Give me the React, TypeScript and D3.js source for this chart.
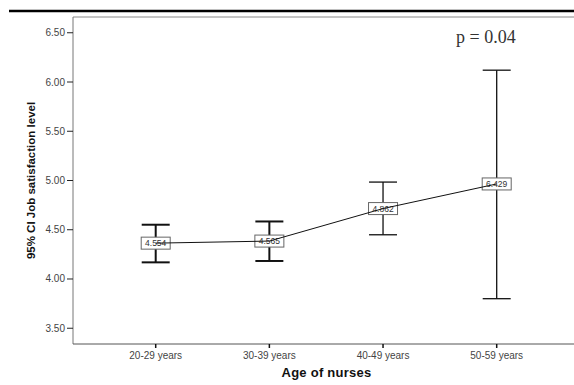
import React from "react";
import * as d3 from "d3";

const categories = ["20-29 years", "30-39 years", "40-49 years", "50-59 years"];
const means = [4.364, 4.385, 4.715, 4.965];
const lower = [4.169, 4.183, 4.449, 3.8];
const upper = [4.551, 4.584, 4.984, 6.12];
const pointLabels = ["4.554", "4.565", "4.862", "6.429"];
const yTicks = [3.5, 4.0, 4.5, 5.0, 5.5, 6.0, 6.5];

const W = 574;
const H = 385;
const frame = { left: 73, right: 580, top: 17, bottom: 344 };

export default function App() {
  const y = d3.scaleLinear().domain([3.34, 6.66]).range([frame.bottom, frame.top]);
  const x = d3.scalePoint<string>().domain(categories).range([155.7, 496.7]);
  const line = d3
    .line<number>()
    .x((_, i) => x(categories[i])!)
    .y((d) => y(d));
  const capW = 14;
  const font = "'Liberation Sans', Arial, sans-serif";
  return (
    <svg
      width={W}
      height={H}
      style={{ position: "absolute", left: 0, top: 0, background: "#fff" }}
    >
      <rect x={0} y={0} width={W} height={H} fill="#fff" />
      <line x1={9} x2={W} y1={11} y2={11} stroke="#000" strokeWidth={2.6} />
      {/* frame */}
      <line x1={frame.left} x2={frame.right} y1={frame.top} y2={frame.top} stroke="#888" strokeWidth={1} />
      <line x1={frame.left} x2={frame.left} y1={frame.top} y2={frame.bottom} stroke="#777" strokeWidth={1} />
      <line x1={frame.left} x2={frame.right} y1={frame.bottom} y2={frame.bottom} stroke="#555" strokeWidth={1} />
      {/* y ticks */}
      {yTicks.map((t) => (
        <g key={t}>
          <line x1={frame.left - 6} x2={frame.left} y1={y(t)} y2={y(t)} stroke="#222" strokeWidth={1} />
          <text
            x={frame.left - 8}
            y={y(t)}
            dy="0.35em"
            textAnchor="end"
            fontFamily={font}
            fontSize={10}
            fill="#444"
          >
            {t.toFixed(2)}
          </text>
        </g>
      ))}
      {/* x ticks */}
      {categories.map((c) => (
        <g key={c}>
          <line x1={x(c)!} x2={x(c)!} y1={frame.bottom} y2={frame.bottom + 4} stroke="#111" strokeWidth={1.5} />
          <text
            x={x(c)!}
            y={358.5}
            textAnchor="middle"
            fontFamily={font}
            fontSize={10}
            fill="#444"
          >
            {c}
          </text>
        </g>
      ))}
      <text
        x={326.5}
        y={377}
        textAnchor="middle"
        fontFamily={font}
        fontSize={13}
        fontWeight="bold"
        letterSpacing={0.25}
        fill="#111"
      >
        Age of nurses
      </text>
      <text
        transform={`translate(35,180.5) rotate(-90)`}
        textAnchor="middle"
        fontFamily={font}
        fontSize={11.5}
        fontWeight="bold"
        fill="#111"
      >
        95% CI Job satisfaction level
      </text>
      {/* error bars */}
      {categories.map((c, i) => {
        const cx = x(c)!;
        const sw = i < 2 ? 2 : 1.3;
        return (
          <g key={c} stroke="#111" strokeWidth={sw}>
            <line x1={cx} x2={cx} y1={y(upper[i])} y2={y(lower[i])} />
            <line x1={cx - capW} x2={cx + capW} y1={y(upper[i])} y2={y(upper[i])} />
            <line x1={cx - capW} x2={cx + capW} y1={y(lower[i])} y2={y(lower[i])} />
          </g>
        );
      })}
      {/* boxes */}
      {categories.map((c, i) => {
        const cx = x(c)!;
        const cy = y(means[i]);
        return (
          <g key={c}>
            <rect x={cx - 14.5} y={cy - 6} width={29} height={12} fill="#fff" stroke="#666" strokeWidth={1} />
            <text
              x={cx}
              y={cy}
              dy="0.36em"
              textAnchor="middle"
              fontFamily={font}
              fontSize={8.5}
              fill="#333"
            >
              {pointLabels[i]}
            </text>
          </g>
        );
      })}
      <path d={line(means)!} fill="none" stroke="#111" strokeWidth={1} />
      <text
        x={456}
        y={43}
        fontFamily="'Liberation Serif', 'Times New Roman', serif"
        fontSize={18}
        fill="#333"
      >
        p = 0.04
      </text>
    </svg>
  );
}
